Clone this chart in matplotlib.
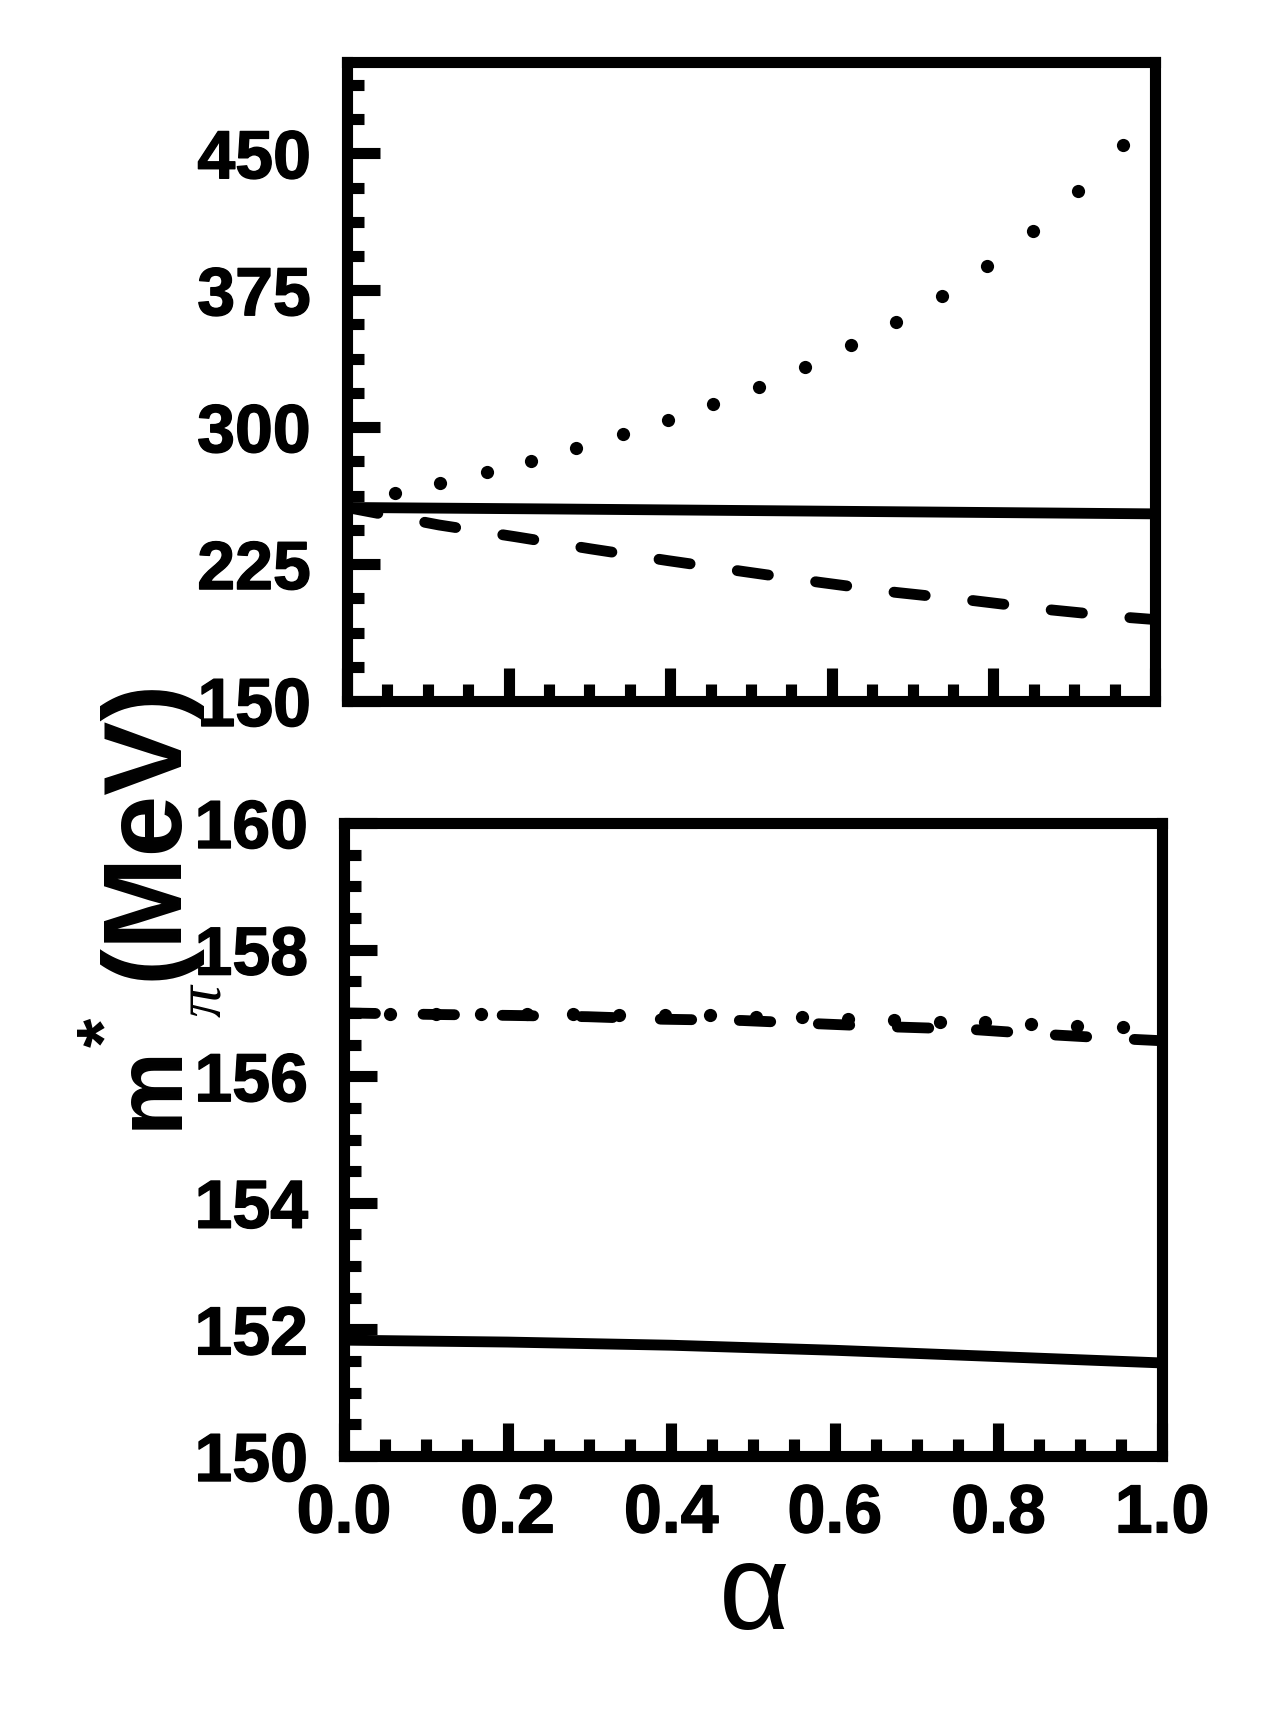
import matplotlib
matplotlib.use('Agg')
import matplotlib.pyplot as plt
import matplotlib.patheffects as pe
from matplotlib.ticker import MultipleLocator, FormatStrFormatter

plt.rcParams['font.family'] = ['Liberation Sans', 'DejaVu Sans']
plt.rcParams['font.weight'] = 'bold'

# ---------------- data ----------------
# upper panel
top_solid_alpha = [0.0, 0.25, 0.5, 0.75, 1.0]
top_solid_m = [256.0, 255.2, 254.3, 253.4, 252.5]

top_dash_alpha = [0.0, 0.114, 0.208, 0.302, 0.397, 0.491, 0.585, 0.679, 0.775, 0.869, 0.962, 1.0]
top_dash_m = [256.0, 246.4, 240.0, 233.3, 226.9, 220.9, 215.0, 209.5, 205.0, 200.0, 195.9, 194.6]

top_dot_alpha = [0.059, 0.115, 0.173, 0.228, 0.284, 0.341, 0.397, 0.453, 0.510,
                 0.567, 0.624, 0.679, 0.737, 0.792, 0.849, 0.905, 0.960]
top_dot_m = [263.8, 269.3, 275.2, 281.7, 288.8, 296.0, 304.0, 312.6, 322.1,
             332.9, 344.8, 357.4, 372.1, 388.3, 407.4, 429.3, 454.3]

# lower panel
bot_solid_alpha = [0.0, 0.2, 0.4, 0.6, 0.8, 1.0]
bot_solid_m = [151.83, 151.80, 151.75, 151.67, 151.57, 151.47]

bot_dash_alpha = [0.0, 0.112, 0.205, 0.298, 0.390, 0.487, 0.576, 0.669, 0.766, 0.857, 0.952, 1.0]
bot_dash_m = [157.0, 156.975, 156.96, 156.94, 156.90, 156.88, 156.83, 156.78, 156.74, 156.66, 156.59, 156.56]

bot_dot_alpha = [0.056, 0.112, 0.168, 0.224, 0.280, 0.336, 0.392, 0.448, 0.504,
                 0.560, 0.616, 0.672, 0.728, 0.784, 0.840, 0.896, 0.952]
bot_dot_m = [156.99, 156.99, 156.99, 156.98, 156.98, 156.97, 156.97, 156.96, 156.94,
             156.93, 156.91, 156.88, 156.86, 156.85, 156.82, 156.79, 156.77]

top_ylim = (150, 500)
bot_ylim = (150, 160)

# ---------------- figure ----------------
W, H = 1273, 1715
fig = plt.figure(figsize=(W / 100, H / 100), dpi=100)


def box(l, t, r, b):
    return [l / W, 1 - b / H, (r - l) / W, (b - t) / H]


def P(x, y):
    return (x / W, 1 - y / H)


ax1 = fig.add_axes(box(347, 63, 1155, 702))
ax2 = fig.add_axes(box(344, 824, 1162, 1457))

LW = 7.8
SW = 8.0
dash_style = (0, (2.9, 4.4))

for ax, sa, sm, da, dm, pa, pm in [
    (ax1, top_solid_alpha, top_solid_m, top_dash_alpha, top_dash_m, top_dot_alpha, top_dot_m),
    (ax2, bot_solid_alpha, bot_solid_m, bot_dash_alpha, bot_dash_m, bot_dot_alpha, bot_dot_m),
]:
    ax.plot(sa, sm, color='k', lw=LW, solid_capstyle='butt')
    ax.plot(da, dm, color='k', lw=LW, linestyle=dash_style, dash_capstyle='round')
    ax.plot(pa, pm, color='k', linestyle='none', marker='o', ms=9.5, mew=0)
    ax.set_xlim(0, 1)
    for s in ax.spines.values():
        s.set_linewidth(SW)
    ax.xaxis.set_major_locator(MultipleLocator(0.2))
    ax.xaxis.set_minor_locator(MultipleLocator(0.05))
    ax.tick_params(which='major', direction='in', length=24, width=SW,
                   top=False, right=False, labelsize=49)
    ax.tick_params(which='minor', direction='in', length=12, width=SW,
                   top=False, right=False)
    ax.tick_params(axis='y', which='major', pad=26)
    ax.tick_params(axis='x', which='major', pad=19)

ax1.set_ylim(*top_ylim)
ax1.yaxis.set_major_locator(MultipleLocator(75))
ax1.yaxis.set_minor_locator(MultipleLocator(18.75))
ax1.yaxis.set_major_formatter(FormatStrFormatter('%d'))
ax1.tick_params(labelbottom=False)

ax2.set_ylim(*bot_ylim)
ax2.yaxis.set_major_locator(MultipleLocator(2))
ax2.yaxis.set_minor_locator(MultipleLocator(0.5))
ax2.yaxis.set_major_formatter(FormatStrFormatter('%d'))
ax2.xaxis.set_major_formatter(FormatStrFormatter('%.1f'))

# make tick labels slightly heavier
fig.canvas.draw()
heavy = [pe.withStroke(linewidth=1.0, foreground='k')]
for ax in (ax1, ax2):
    for lab in ax.get_xticklabels() + ax.get_yticklabels():
        lab.set_fontweight('bold')
        lab.set_path_effects(heavy)

# y label  m*_π (MeV)
kw = dict(rotation=90, rotation_mode='anchor', ha='center', va='baseline')
fig.text(*P(177, 1087), 'm', fontsize=68, fontweight='bold', **kw)
fig.text(*P(128, 1032), '*', fontsize=54, fontweight='bold', **kw)
fig.text(*P(220, 1001), 'π', fontsize=46, family=['Liberation Serif', 'DejaVu Serif'],
         style='italic', fontweight='normal', **kw)
fig.text(*P(177, 829), '(MeV)', fontsize=80, fontweight='bold', **kw)

# x label
fig.text(*P(754, 1629), 'α', ha='center', va='baseline', fontsize=88, fontweight='normal')

fig.savefig('out.png', dpi=100, facecolor='white')
